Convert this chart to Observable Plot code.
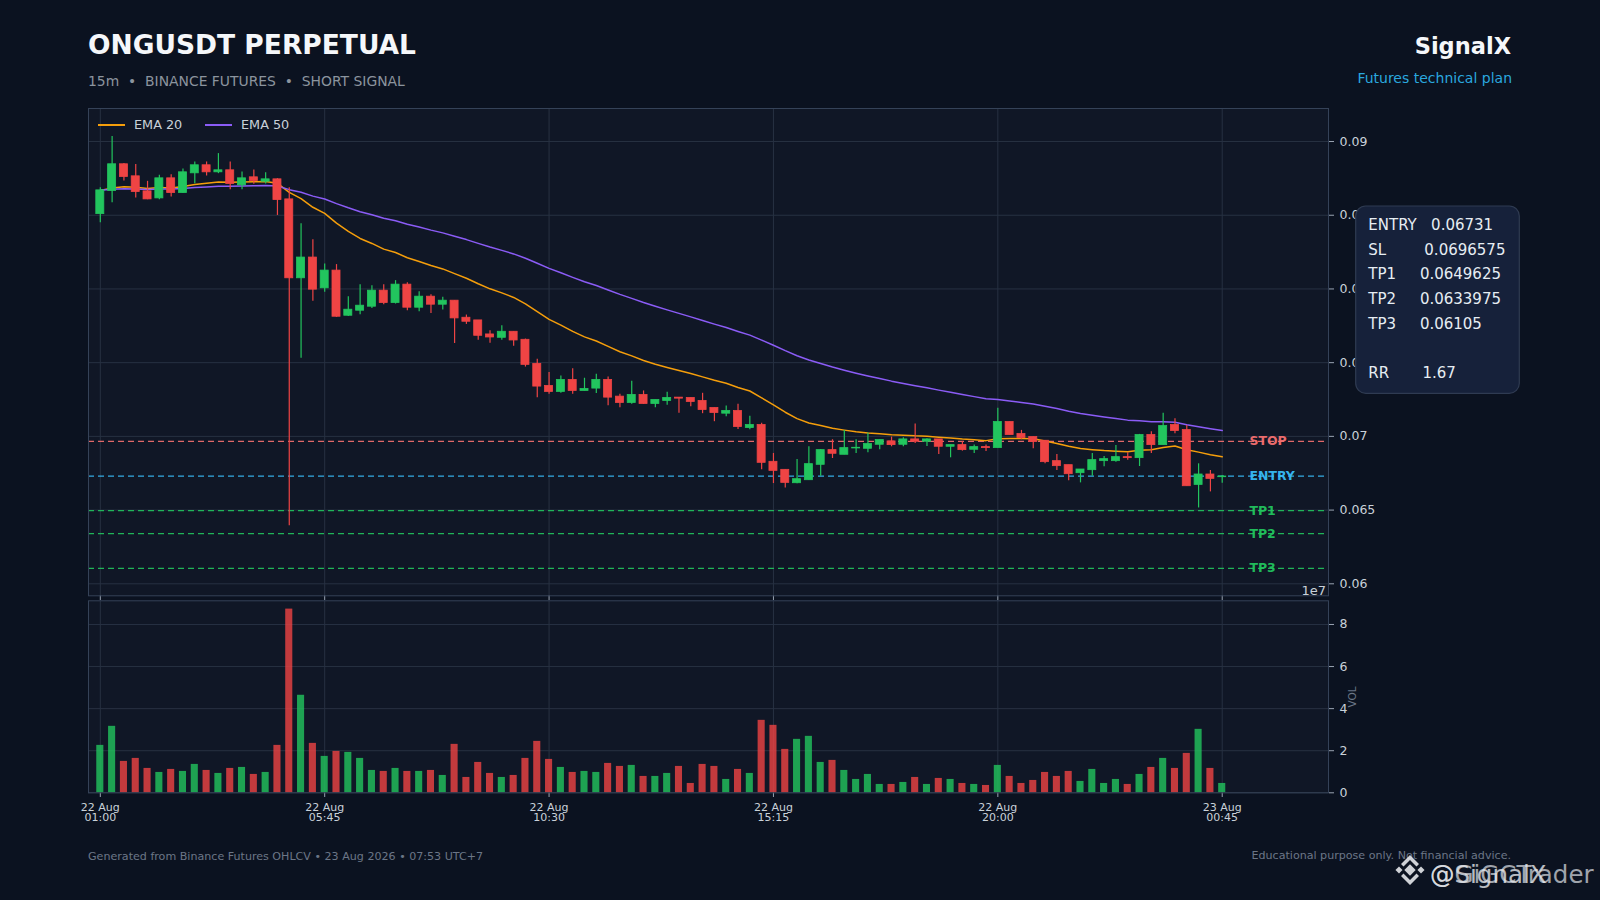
<!DOCTYPE html>
<html><head><meta charset="utf-8">
<script src="https://cdn.jsdelivr.net/npm/d3@7"></script>
<script src="https://cdn.jsdelivr.net/npm/@observablehq/plot@0.6"></script>
<style>
html,body{margin:0;padding:0;background:#0b1220;}
#wrap{position:relative;width:1600px;height:900px;background:#0b1220;overflow:hidden;font-family:"DejaVu Sans",sans-serif;}
#wrap svg{position:absolute;left:0;}
</style></head><body><div id="wrap"></div>
<script>
// ---- DATA (15m candles, 22 Aug 01:00 -> 23 Aug 00:45) ----
const open = [0.085077,0.086641,0.088456,0.087639,0.086619,0.086143,0.087503,0.086505,0.087843,0.088388,
0.087911,0.088047,0.087027,0.087571,0.087276,0.087435,0.086075,0.080723,0.082129,0.080043,
0.081245,0.078183,0.078524,0.078796,0.079884,0.079045,0.080292,0.078728,0.079476,0.078932,
0.079204,0.078047,0.077866,0.076914,0.076687,0.077095,0.076551,0.074919,0.073422,0.073014,
0.07383,0.073082,0.073241,0.07383,0.072696,0.072266,0.07281,0.072198,0.072402,0.072628,
0.072606,0.072402,0.071925,0.07154,0.071721,0.070565,0.070769,0.068275,0.06773,0.066823,
0.067027,0.068071,0.069068,0.068751,0.069182,0.069159,0.069431,0.069658,0.069431,0.069794,
0.069635,0.069794,0.069295,0.069408,0.069091,0.069272,0.069204,0.070973,0.070157,0.069952,
0.069703,0.06832,0.068048,0.067503,0.067708,0.06832,0.06832,0.068592,0.068524,0.070089,
0.069408,0.070769,0.070429,0.06671,0.067413,0.067231];
const high = [0.086868,0.090338,0.088501,0.088433,0.087299,0.087707,0.087753,0.088138,0.088614,0.088614,
0.089181,0.088614,0.087934,0.08807,0.087889,0.08748,0.086868,0.084419,0.083331,0.081698,
0.081653,0.079476,0.080292,0.080224,0.080292,0.080564,0.080428,0.079816,0.079612,0.079431,
0.079204,0.078229,0.077866,0.077163,0.077503,0.077095,0.0766,0.075236,0.074329,0.074102,
0.074579,0.073944,0.074216,0.074034,0.072855,0.07374,0.073082,0.07247,0.072991,0.072628,
0.072606,0.072923,0.071925,0.072062,0.072175,0.071359,0.070882,0.068842,0.06773,0.068433,
0.069295,0.069114,0.069771,0.070406,0.069771,0.070225,0.069749,0.069953,0.069907,0.070837,
0.069839,0.069794,0.069408,0.069658,0.069408,0.069408,0.071903,0.070973,0.070406,0.069952,
0.069703,0.068773,0.068048,0.067753,0.068841,0.068637,0.069386,0.068887,0.070134,0.070315,
0.071562,0.0712,0.070746,0.068138,0.067685,0.067345];
const low = [0.084487,0.085848,0.087322,0.086165,0.086052,0.086052,0.086233,0.086483,0.08714,0.087662,
0.087821,0.086732,0.086732,0.087095,0.087118,0.084986,0.063946,0.075306,0.079158,0.079771,
0.07807,0.078138,0.078251,0.078682,0.078932,0.078977,0.078524,0.078456,0.078342,0.078569,
0.076301,0.077594,0.076528,0.076324,0.076528,0.07612,0.0747,0.072628,0.072855,0.072923,
0.072855,0.073082,0.072901,0.072084,0.071948,0.072175,0.072175,0.071948,0.072107,0.071563,
0.072016,0.07154,0.070996,0.071336,0.070474,0.070452,0.06773,0.066801,0.066506,0.066778,
0.067027,0.0673,0.068501,0.068751,0.068842,0.068887,0.069091,0.069295,0.069295,0.069522,
0.069318,0.068774,0.068547,0.069,0.068842,0.068978,0.069204,0.070089,0.069771,0.069159,
0.068138,0.067685,0.066982,0.066846,0.067299,0.067934,0.068252,0.068388,0.067957,0.068841,
0.069408,0.070179,0.066619,0.065145,0.066234,0.066823];
const close = [0.086687,0.088456,0.087594,0.086573,0.086075,0.087503,0.086505,0.087911,0.088388,0.087911,
0.088047,0.087118,0.087503,0.087322,0.087435,0.086029,0.080723,0.082129,0.079952,0.081245,
0.078115,0.078592,0.078864,0.079884,0.079045,0.080292,0.078728,0.079476,0.078932,0.079204,
0.078002,0.077775,0.076823,0.076709,0.077095,0.076505,0.074851,0.073377,0.073014,0.07383,
0.073082,0.073218,0.07383,0.072628,0.072266,0.07281,0.072198,0.07247,0.072606,0.07256,
0.072334,0.071789,0.071585,0.071721,0.070633,0.070769,0.068206,0.067662,0.066846,0.067096,
0.068116,0.069068,0.068819,0.069204,0.069227,0.069476,0.069749,0.069408,0.069794,0.069635,
0.069794,0.069295,0.069408,0.069068,0.069272,0.069204,0.070973,0.070089,0.069884,0.069612,
0.068252,0.06798,0.067435,0.067753,0.068388,0.068456,0.068592,0.068524,0.070089,0.069408,
0.070701,0.070361,0.066619,0.067413,0.067118,0.067277];
// volume in units of 1e7
const volume = [2.254,3.159,1.492,1.635,1.159,0.968,1.111,1.016,1.349,1.063,
0.921,1.159,1.206,0.873,0.968,2.254,8.730,4.635,2.349,1.730,
1.968,1.921,1.635,1.063,1.016,1.159,1.016,1.016,1.063,0.825,
2.302,0.730,1.444,0.921,0.730,0.825,1.635,2.444,1.587,1.206,
0.968,1.016,0.968,1.397,1.254,1.302,0.778,0.778,0.921,1.254,
0.444,1.349,1.254,0.635,1.111,0.921,3.444,3.206,2.063,2.540,
2.683,1.444,1.540,1.063,0.635,0.873,0.397,0.397,0.492,0.730,
0.397,0.683,0.635,0.444,0.397,0.349,1.302,0.778,0.444,0.587,
0.968,0.778,1.016,0.540,1.111,0.444,0.635,0.397,0.873,1.206,
1.635,1.159,1.873,3.016,1.159,0.444];
const tickIndex = [0,19,38,57,76,95];
const tickLabels = ["22 Aug\n01:00","22 Aug\n05:45","22 Aug\n10:30","22 Aug\n15:15","22 Aug\n20:00","23 Aug\n00:45"];
const priceTicks = [0.06,0.065,0.07,0.075,0.08,0.085,0.09];
const volTicks = [0,2,4,6,8];
const levelNames = ["STOP","ENTRY","TP1","TP2","TP3"];
const levelValues = [0.0696575,0.06731,0.0649625,0.0633975,0.06105];
const rrValue = 1.67;

// ---- styles ----
const G = "#22c55e", R = "#ef4444";
const levelColor = {STOP:"#f87171", ENTRY:"#38bdf8", TP1:"#22c55e", TP2:"#22c55e", TP3:"#22c55e"};
const PANEL = "#101726", GRID = "#273142", FRAME = "#354258", TXT = "#c9d1d9";

function ema(vals, span){ const a = 2/(span+1); let p = vals[0]; return vals.map((v,k)=> (p = k===0 ? v : a*v + (1-a)*p)); }
const e20 = ema(close,20), e50 = ema(close,50);
const candles = close.map((c,i)=>({i, o:open[i], h:high[i], l:low[i], c, v:volume[i], up:c>=open[i], e20:e20[i], e50:e50[i]}));
const levels = levelNames.map((n,k)=>({name:n, v:levelValues[k]}));
const col = d => d.up ? G : R;
const xDom = [-1,104];
const W = 1600;
const wrap = document.getElementById("wrap");

const price = Plot.plot({
  width: W, height: 600,
  marginLeft: 88, marginRight: W-1328, marginTop: 108, marginBottom: 4.7,
  x: {type:"linear", domain:xDom, label:null},
  y: {domain:[0.059186,0.09224], label:null},
  style:{background:"transparent", color:TXT, fontFamily:"DejaVu Sans", fontSize:"12.5px"},
  marks:[
    Plot.frame({fill:PANEL, stroke:null}),
    Plot.gridX(tickIndex,{stroke:GRID, strokeOpacity:1}),
    Plot.gridY(priceTicks,{stroke:GRID, strokeOpacity:1}),
    Plot.axisY(priceTicks,{anchor:"right", label:null, tickFormat:d=>String(+d.toFixed(3)), tickSize:5, tickPadding:6, fontSize:12.5, stroke:"#9aa4b2"}),
    Plot.axisX(tickIndex,{anchor:"bottom", label:null, tickFormat:()=>"", tickSize:4.7, stroke:"#9aa4b2"}),
    Plot.text(levels,{x:97.3, y:"v", text:"name", textAnchor:"start", fill:d=>levelColor[d.name], fontWeight:"bold", fontSize:12.5, fillOpacity:0.95}),
    Plot.ruleY(levels,{y:"v", stroke:d=>levelColor[d.name], strokeDasharray:"6,4", strokeWidth:1.3, strokeOpacity:0.9}),
    Plot.line(candles,{x:"i", y:"e20", stroke:"#f59e0b", strokeWidth:1.5}),
    Plot.line(candles,{x:"i", y:"e50", stroke:"#8b5cf6", strokeWidth:1.5}),
    Plot.ruleX(candles,{x:"i", y1:"l", y2:"h", stroke:col, strokeWidth:1.2}),
    Plot.rect(candles,{x1:d=>d.i-0.34, x2:d=>d.i+0.34, y1:d=>Math.min(d.o,d.c), y2:d=>Math.max(d.o,d.c), fill:col, stroke:col, strokeWidth:0.8}),
    Plot.frame({stroke:FRAME, strokeWidth:1})
  ]
});
price.style.top = "0px";
wrap.appendChild(price);

const vol = Plot.plot({
  width: W, height: 240,
  marginLeft: 88, marginRight: W-1328, marginTop: 10.3, marginBottom: 37.7,
  x: {type:"linear", domain:xDom, label:null},
  y: {domain:[0,9.125], label:null},
  style:{background:"transparent", color:TXT, fontFamily:"DejaVu Sans", fontSize:"12px"},
  marks:[
    Plot.frame({fill:PANEL, stroke:null}),
    Plot.gridX(tickIndex,{stroke:GRID, strokeOpacity:1}),
    Plot.gridY(volTicks,{stroke:GRID, strokeOpacity:1}),
    Plot.axisY(volTicks,{anchor:"right", label:null, tickSize:5, tickPadding:6, fontSize:12.5, stroke:"#9aa4b2"}),
    Plot.axisX(tickIndex,{anchor:"bottom", label:null, tickFormat:d=>tickLabels[tickIndex.indexOf(d)], tickSize:4.7, tickPadding:6, fontSize:11, lineHeight:0.95, stroke:"#9aa4b2"}),
    Plot.rectY(candles,{x1:d=>d.i-0.3, x2:d=>d.i+0.3, y:"v", fill:col, fillOpacity:0.8}),
    Plot.frame({stroke:FRAME, strokeWidth:1})
  ]
});
vol.style.top = "590px";
wrap.appendChild(vol);

// ---- overlay texts ----
const rows = [["ENTRY","   ","0.06731"],["SL","        ","0.0696575"],["TP1","     ","0.0649625"],["TP2","     ","0.0633975"],["TP3","     ","0.06105"],null,["RR","       ",String(rrValue)]];
const ovl = `
<svg width="1600" height="900" style="top:0;pointer-events:none" font-family="DejaVu Sans">
 <text x="88" y="54" font-size="26.5" font-weight="bold" fill="#f5f7fa">ONGUSDT PERPETUAL</text>
 <text x="88" y="86" font-size="13.9" fill="#8b949e" style="white-space:pre">15m  •  BINANCE FUTURES  •  SHORT SIGNAL</text>
 <text x="1511" y="54" font-size="22.5" font-weight="bold" fill="#f5f7fa" text-anchor="end">SignalX</text>
 <text x="1512" y="83" font-size="14" fill="#2aa7df" text-anchor="end">Futures technical plan</text>
 <line x1="98" x2="125" y1="125" y2="125" stroke="#f59e0b" stroke-width="2"/>
 <text x="134" y="129.3" font-size="12.8" fill="${TXT}">EMA 20</text>
 <line x1="205" x2="232" y1="125" y2="125" stroke="#8b5cf6" stroke-width="2"/>
 <text x="241" y="129.3" font-size="12.8" fill="${TXT}">EMA 50</text>
 <rect x="1355.7" y="206" width="163.6" height="187.3" rx="10" fill="#16213a" stroke="#2f3b52" stroke-width="1.2"/>
 ${rows.map((r,k)=> r ? `<text x="1368.3" y="${230+k*24.7}" font-size="15" fill="#e6edf3" style="white-space:pre">${r.join("")}</text>` : "").join("")}
 <text x="1326" y="594.5" font-size="13" fill="${TXT}" text-anchor="end">1e7</text>
 <text transform="translate(1356,697) rotate(-90)" font-size="10.5" fill="#6b7687" text-anchor="middle">VOL</text>
 <text x="88" y="860" font-size="11.1" fill="#6b7687">Generated from Binance Futures OHLCV • 23 Aug 2026 • 07:53 UTC+7</text>
 <text x="1511" y="859" font-size="11.1" fill="#6b7687" text-anchor="end">Educational purpose only. Not financial advice.</text>
 <g fill="#e5e7eb" opacity="0.9" transform="translate(1410,870)">
   <rect x="-4" y="-4" width="8" height="8" transform="rotate(45)"/>
   <rect x="-2.5" y="-2.5" width="5" height="5" transform="translate(-11,0) rotate(45)"/>
   <rect x="-2.5" y="-2.5" width="5" height="5" transform="translate(11,0) rotate(45)"/>
   <path d="M-9,-6 L0,-15 L9,-6 L6.5,-3.5 L0,-10 L-6.5,-3.5Z"/>
   <path d="M-9,6 L0,15 L9,6 L6.5,3.5 L0,10 L-6.5,3.5Z"/>
 </g>
 <text x="1430" y="883.3" font-size="24.5" fill="#d1d5db" opacity="0.75">@GiGCTrader</text>
 <text x="1430" y="883.3" font-size="24.5" fill="#e5e7eb" opacity="0.8">@SignalX</text>
</svg>`;
wrap.insertAdjacentHTML("beforeend", ovl);
</script></body></html>
